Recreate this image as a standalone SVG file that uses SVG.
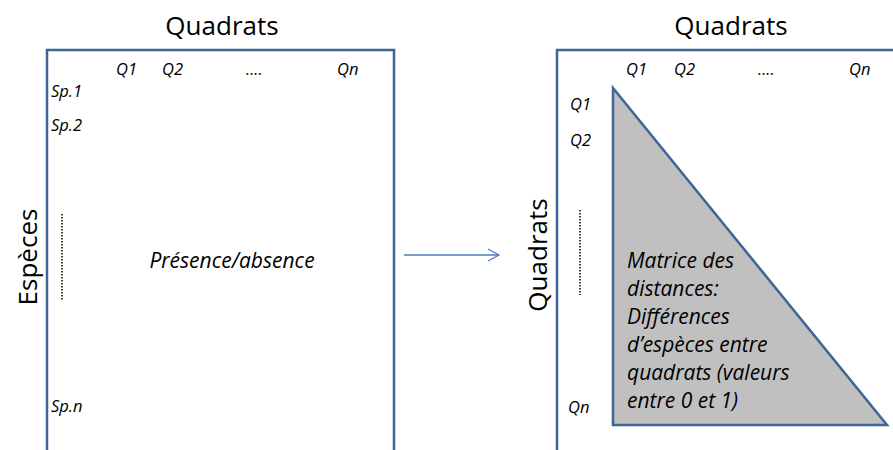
<svg xmlns="http://www.w3.org/2000/svg" width="893" height="450" viewBox="0 0 893 450">
<defs>
<marker id="arr" markerWidth="14" markerHeight="14" refX="12" refY="7" orient="auto" markerUnits="userSpaceOnUse">
<path d="M1,1 L12,7 L1,13" fill="none" stroke="#4a7ebb" stroke-width="1.3"/>
</marker>
</defs>
<style>
.frame{fill:none;stroke:#3f6496;stroke-width:2.5}
.title{font-family:"Open Sans","Liberation Sans",sans-serif;font-size:26px;fill:#000}
.lab{font-family:"Open Sans","Liberation Sans",sans-serif;font-style:italic;font-size:16.5px;fill:#000}
.big{font-family:"Open Sans","Liberation Sans",sans-serif;font-style:italic;font-size:21px;fill:#000}
.dots{stroke:#000;stroke-width:1.5;stroke-dasharray:1.5 1.5}
</style>
<rect width="893" height="450" fill="#fff"/>
<g id="left-matrix">
<path class="frame" d="M47,452 V50 H394 V452"/>
<text class="title" x="222" y="35" text-anchor="middle">Quadrats</text>
<text class="title" transform="translate(37,257) rotate(-90)" text-anchor="middle">Espèces</text>
<text class="lab" x="116" y="75">Q1</text>
<text class="lab" x="162" y="75">Q2</text>
<text class="lab" x="246" y="75">....</text>
<text class="lab" x="337" y="75">Qn</text>
<text class="lab" x="51" y="97">Sp.1</text>
<text class="lab" x="51" y="131">Sp.2</text>
<text class="lab" x="51" y="412">Sp.n</text>
<line class="dots" x1="62" y1="214" x2="62" y2="300"/>
<text class="big" x="232" y="268" text-anchor="middle">Présence/absence</text>
</g>
<g id="connectors">
<line x1="404" y1="255" x2="499" y2="255" stroke="#4a7ebb" stroke-width="1.3" marker-end="url(#arr)"/>
</g>
<g id="right-matrix">
<path class="frame" d="M557,452 V50 H895"/>
<text class="title" x="731" y="35" text-anchor="middle">Quadrats</text>
<text class="title" transform="translate(547,255) rotate(-90)" text-anchor="middle">Quadrats</text>
<text class="lab" x="626" y="75">Q1</text>
<text class="lab" x="674" y="75">Q2</text>
<text class="lab" x="758" y="75">....</text>
<text class="lab" x="849" y="75">Qn</text>
<text class="lab" x="570" y="110">Q1</text>
<text class="lab" x="570" y="146">Q2</text>
<text class="lab" x="568" y="413">Qn</text>
<line class="dots" x1="580" y1="210" x2="580" y2="295"/>
<polygon points="613,88 613,425 887,425" fill="#c0c0c0" stroke="#3f6496" stroke-width="2.5" stroke-linejoin="miter"/>
<text class="big" x="627" y="268">Matrice des</text>
<text class="big" x="627" y="296">distances:</text>
<text class="big" x="627" y="324">Différences</text>
<text class="big" x="627" y="352">d’espèces entre</text>
<text class="big" x="627" y="380">quadrats (valeurs</text>
<text class="big" x="627" y="408">entre 0 et 1)</text>
</g>
</svg>
